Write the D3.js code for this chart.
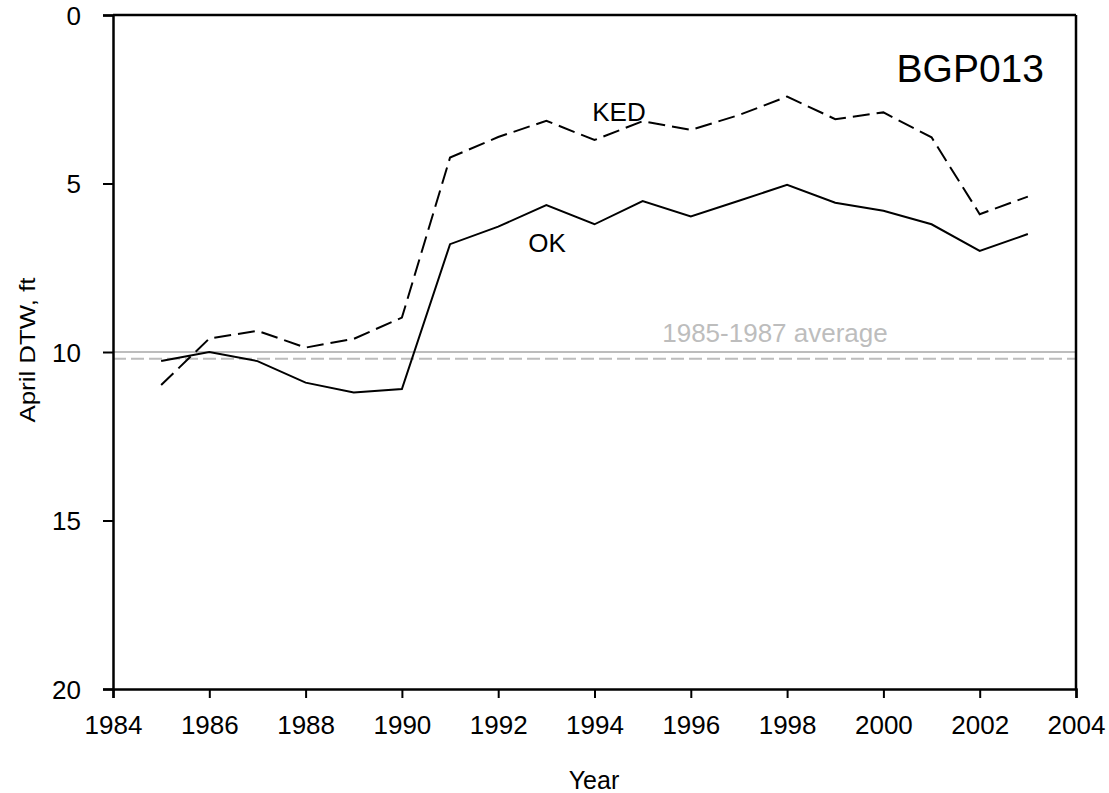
<!DOCTYPE html>
<html>
<head>
<meta charset="utf-8">
<script src="https://cdn.jsdelivr.net/npm/d3@7"></script>
<style>
  body { margin: 0; background: #fff; }
  text { font-family: Arial, "Liberation Sans", sans-serif; }
</style>
</head>
<body>
<svg id="chart" width="1109" height="793"></svg>
<script>
// April depth to water, well BGP013
var years = [1985, 1986, 1987, 1988, 1989, 1990, 1991, 1992, 1993, 1994,
             1995, 1996, 1997, 1998, 1999, 2000, 2001, 2002, 2003];
var okValues = [10.27, 10.0, 10.27, 10.91, 11.2, 11.1, 6.8, 6.28, 5.64, 6.21,
                5.52, 5.98, 5.51, 5.04, 5.57, 5.81, 6.21, 7.0, 6.5];
var kedValues = [10.98, 9.6, 9.37, 9.87, 9.61, 8.98, 4.23, 3.62, 3.14, 3.71,
                 3.15, 3.41, 2.97, 2.42, 3.09, 2.89, 3.63, 5.91, 5.39];
var okAverage = 10.0;
var kedAverage = 10.2;
var xTicks = [1984, 1986, 1988, 1990, 1992, 1994, 1996, 1998, 2000, 2002, 2004];
var yTicks = [0, 5, 10, 15, 20];

var svg = d3.select("#chart");
var plotLeft = 113, plotRight = 1076, plotTop = 15, plotBottom = 689;

var x = d3.scaleLinear().domain([1984, 2004]).range([plotLeft, plotRight]);
var y = d3.scaleLinear().domain([0, 20]).range([plotTop, plotBottom]);

// average lines
svg.append("line")
    .attr("x1", plotLeft).attr("x2", plotRight)
    .attr("y1", y(okAverage)).attr("y2", y(okAverage))
    .attr("stroke", "#bdbdbd").attr("stroke-width", 2);
svg.append("line")
    .attr("x1", plotLeft).attr("x2", plotRight)
    .attr("y1", y(kedAverage)).attr("y2", y(kedAverage))
    .attr("stroke", "#bdbdbd").attr("stroke-width", 2)
    .attr("stroke-dasharray", "13 5");

var line = d3.line()
    .x(function (d) { return x(d[0]); })
    .y(function (d) { return y(d[1]); });

svg.append("path")
    .datum(d3.zip(years, okValues))
    .attr("d", line)
    .attr("fill", "none")
    .attr("stroke", "#000")
    .attr("stroke-width", 2);

svg.append("path")
    .datum(d3.zip(years, kedValues))
    .attr("d", line)
    .attr("fill", "none")
    .attr("stroke", "#000")
    .attr("stroke-width", 2)
    .attr("stroke-dasharray", "17 7");

// axes
var xAxis = svg.append("g")
    .attr("transform", "translate(0," + plotBottom + ")")
    .call(d3.axisBottom(x).tickValues(xTicks).tickFormat(d3.format("d"))
        .tickSize(9).tickPadding(18));
var yAxis = svg.append("g")
    .attr("transform", "translate(" + plotLeft + ",0)")
    .call(d3.axisLeft(y).tickValues(yTicks).tickSize(10).tickPadding(22));

[xAxis, yAxis].forEach(function (g) {
    g.select(".domain").attr("stroke-width", 2.5);
    g.selectAll(".tick line").attr("stroke-width", 2);
    g.selectAll(".tick text").attr("font-size", 26).attr("fill", "#000")
        .attr("font-family", "Arial, 'Liberation Sans', sans-serif");
});
yAxis.selectAll(".tick text").attr("dy", "0.36em");

// box top and right
svg.append("line").attr("x1", plotLeft).attr("x2", plotRight)
    .attr("y1", plotTop).attr("y2", plotTop)
    .attr("stroke", "#000").attr("stroke-width", 2.5);
svg.append("line").attr("x1", plotRight).attr("x2", plotRight)
    .attr("y1", plotTop).attr("y2", plotBottom)
    .attr("stroke", "#000").attr("stroke-width", 2.5);

// labels
svg.append("text")
    .attr("x", 594).attr("y", 789)
    .attr("text-anchor", "middle").attr("font-size", 25)
    .text("Year");
svg.append("text")
    .attr("transform", "translate(35,350) rotate(-90)")
    .attr("text-anchor", "middle").attr("font-size", 22)
    .attr("textLength", 145).attr("lengthAdjust", "spacingAndGlyphs")
    .text("April DTW, ft");
svg.append("text")
    .attr("x", 1044).attr("y", 82)
    .attr("text-anchor", "end").attr("font-size", 39)
    .text("BGP013");
svg.append("text")
    .attr("x", 619).attr("y", 121)
    .attr("text-anchor", "middle").attr("font-size", 26)
    .text("KED");
svg.append("text")
    .attr("x", 547).attr("y", 252)
    .attr("text-anchor", "middle").attr("font-size", 26)
    .text("OK");
svg.append("text")
    .attr("x", 775).attr("y", 342)
    .attr("text-anchor", "middle").attr("font-size", 26)
    .attr("fill", "#bdbdbd")
    .text("1985-1987 average");
</script>
</body>
</html>
